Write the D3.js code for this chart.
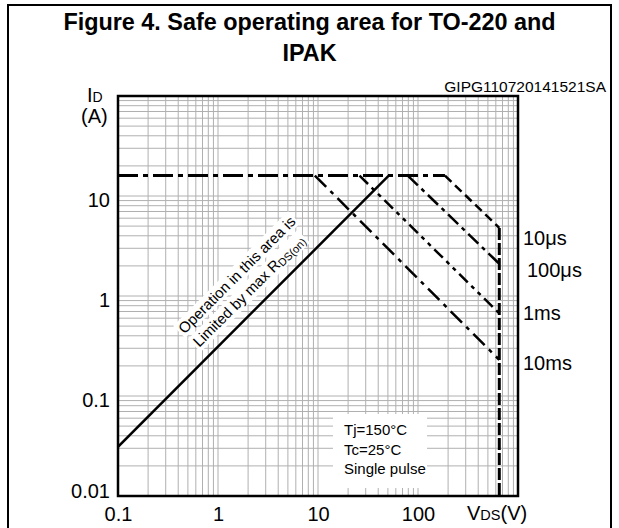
<!DOCTYPE html>
<html>
<head>
<meta charset="utf-8">
<script src="https://cdn.jsdelivr.net/npm/d3@7"></script>
<style>
  body { margin: 0; background: #fff; }
  svg { display: block; font-family: "Liberation Sans", Arial, sans-serif; }
</style>
</head>
<body>
<div id="chart"></div>
<script>
// chart values
const vdsTicks = [0.1, 1, 10, 100];
const idTicks = [0.01, 0.1, 1, 10];
const rdsV = [0.1, 51];          // RDS(on) limit line, V
const rdsI = [0.031, 16];        // RDS(on) limit line, A
const idMax = 16;
const vdsMax = 650;
const pulseNames = ["10μs", "100μs", "1ms", "10ms"];
const kneeV = [186, 79, 26, 9.3];     // where each curve leaves the ID max line
const cornerI = [4.8, 2.1, 0.67, 0.23]; // current at VDS max
const noteLines = ["Tj=150°C", "Tc=25°C", "Single pulse"];

const width = 619, height = 528;
const margin = { left: 118, top: 96, right: 101, bottom: 32 };
const innerW = width - margin.left - margin.right;
const innerH = height - margin.top - margin.bottom;

const svg = d3.select("#chart").append("svg")
  .attr("width", width)
  .attr("height", height);

// outer frame
svg.append("rect")
  .attr("x", 8).attr("y", 5)
  .attr("width", 603).attr("height", 540)
  .attr("fill", "none").attr("stroke", "#000").attr("stroke-width", 2);

// title
svg.append("text")
  .attr("x", 309.5).attr("y", 30)
  .attr("text-anchor", "middle")
  .attr("font-size", "23.4px").attr("font-weight", "bold")
  .text("Figure 4. Safe operating area for TO-220 and");
svg.append("text")
  .attr("x", 309.5).attr("y", 61)
  .attr("text-anchor", "middle")
  .attr("font-size", "23.4px").attr("font-weight", "bold")
  .text("IPAK");

svg.append("text")
  .attr("x", 606).attr("y", 92)
  .attr("text-anchor", "end")
  .attr("font-size", "15.5px")
  .text("GIPG110720141521SA");

const x = d3.scaleLog().domain([0.1, 1000]).range([0, innerW]);
const y = d3.scaleLog().domain([0.01, 100]).range([innerH, 0]);

const chart = svg.append("g")
  .attr("transform", `translate(${margin.left},${margin.top})`);

chart.append("clipPath").attr("id", "plot-clip")
  .append("rect").attr("width", innerW).attr("height", innerH);

// log grid
const grid = chart.append("g").attr("stroke", "#b0b0b0").attr("stroke-width", 1);
grid.selectAll(".gx")
  .data(x.ticks())
  .join("line")
    .attr("x1", d => x(d)).attr("x2", d => x(d))
    .attr("y1", 0).attr("y2", innerH);
grid.selectAll(".gy")
  .data(y.ticks())
  .join("line")
    .attr("y1", d => y(d)).attr("y2", d => y(d))
    .attr("x1", 0).attr("x2", innerW);

// note box (covers grid)
const note = chart.append("g").attr("transform", "translate(215,318)");
note.append("rect")
  .attr("width", 94).attr("height", 74)
  .attr("fill", "#fff");
note.selectAll("text")
  .data(noteLines)
  .join("text")
    .attr("x", 11)
    .attr("y", (d, i) => [21, 41, 60][i])
    .attr("font-size", "15px")
    .text(d => d);

// rotated annotation along the RDS(on) line
const ann = chart.append("g");
const annLines = [
  { cx: 237, cy: 275, parts: [["Operation in this area is", 15, 0]] },
  { cx: 249, cy: 291, parts: [["Limited by max R", 15, 0], ["DS(on)", 11, 2]] }
];
annLines.forEach(l => {
  const g = ann.append("g")
    .attr("transform", `translate(${l.cx - margin.left},${l.cy - margin.top}) rotate(-45)`);
  const bg = g.append("rect").attr("fill", "#fff");
  const t = g.append("text").attr("text-anchor", "middle").attr("y", 5);
  l.parts.forEach(p => {
    t.append("tspan").attr("font-size", p[1] + "px").attr("dy", p[2]).text(p[0]);
  });
  const b = t.node().getBBox();
  bg.attr("x", b.x - 2).attr("y", b.y).attr("width", b.width + 4).attr("height", b.height);
});

const line = d3.line().x(d => x(d[0])).y(d => y(d[1]));
const curves = chart.append("g").attr("clip-path", "url(#plot-clip)")
  .attr("fill", "none").attr("stroke", "#000");

// RDS(on) limit
curves.append("path")
  .attr("d", line(rdsV.map((v, i) => [v, rdsI[i]])))
  .attr("stroke-width", 2.5);

// ID max line
curves.append("path")
  .attr("d", line([[0.1, idMax], [d3.max(kneeV), idMax]]))
  .attr("stroke-width", 3)
  .attr("stroke-dasharray", "20,5,5,5");

// VDS max line
curves.append("path")
  .attr("d", line([[vdsMax, d3.max(cornerI)], [vdsMax, 0.01]]))
  .attr("stroke-width", 3)
  .attr("stroke-dasharray", "12,3");

const dashes = ["9,5", "14,5,4,5", "12,5,4,5,4,5", "16,6,4,6"];
pulseNames.forEach((name, i) => {
  curves.append("path")
    .attr("d", line([[kneeV[i], idMax], [vdsMax, cornerI[i]]]))
    .attr("stroke-width", 2.5)
    .attr("stroke-dasharray", dashes[i]);
});

// pulse labels
const labelDx = [5, 9, 5, 5];
const labelDy = [17, 13.5, 7, 10];
chart.selectAll(".pulse-label")
  .data(pulseNames)
  .join("text")
    .attr("class", "pulse-label")
    .attr("x", (d, i) => innerW + labelDx[i])
    .attr("y", (d, i) => y(cornerI[i]) + labelDy[i])
    .attr("font-size", "20px")
    .text(d => d);

// plot border
chart.append("rect")
  .attr("width", innerW).attr("height", innerH)
  .attr("fill", "none").attr("stroke", "#000").attr("stroke-width", 2.5);

// axes (labels only)
const fmt = d3.format("~g");
const xAxis = chart.append("g")
  .attr("transform", `translate(0,${innerH})`)
  .call(d3.axisBottom(x).tickValues(vdsTicks).tickSize(0).tickPadding(0).tickFormat(fmt));
xAxis.select(".domain").remove();
xAxis.selectAll("text")
  .attr("font-size", "20px").attr("fill", "#000")
  .attr("font-family", "Liberation Sans, Arial, sans-serif")
  .attr("dy", null).attr("y", 25);

const yAxis = chart.append("g")
  .call(d3.axisLeft(y).tickValues(idTicks).tickSize(0).tickPadding(8).tickFormat(fmt));
yAxis.select(".domain").remove();
yAxis.selectAll("text")
  .attr("font-size", "20px").attr("fill", "#000")
  .attr("font-family", "Liberation Sans, Arial, sans-serif")
  .attr("dy", null)
  .attr("y", d => d === 0.01 ? 1 : 10);

// axis titles
const yTitle = svg.append("text").attr("x", 87).attr("y", 102);
yTitle.append("tspan").attr("font-size", "20px").text("I");
yTitle.append("tspan").attr("font-size", "14px").text("D");
svg.append("text")
  .attr("x", 81).attr("y", 123)
  .attr("font-size", "20px")
  .text("(A)");

const xTitle = svg.append("text").attr("x", 467).attr("y", 520);
xTitle.append("tspan").attr("font-size", "20px").text("V");
xTitle.append("tspan").attr("font-size", "14.5px").text("DS");
xTitle.append("tspan").attr("font-size", "20px").text("(V)");
</script>
</body>
</html>
